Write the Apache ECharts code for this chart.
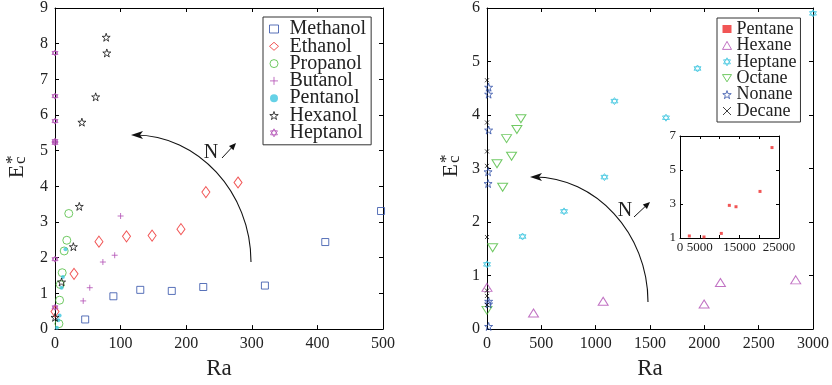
<!DOCTYPE html>
<html>
<head>
<meta charset="utf-8">
<script src="https://cdn.jsdelivr.net/npm/echarts@6/dist/echarts.min.js"></script>
<style>
  body { margin: 0; background: #fff; }
  #main { width: 832px; height: 385px; }
</style>
</head>
<body>
<div id="main"></div>
<script>
// left panel: alcohols, [Ra, Ec*]
var methanol = [[46,0.27],[89,0.92],[130,1.10],[178,1.07],[226,1.18],[320,1.22],[412,2.44],[497,3.31]];
var ethanol  = [[0,0.49],[29,1.55],[67,2.45],[109,2.60],[148,2.62],[192,2.80],[230,3.84],[279,4.11]];
var propanol = [[6,0.15],[7,0.81],[8,1.25],[11,1.58],[14,2.19],[18,2.49],[21,3.24]];
var butanol  = [[43,0.79],[53,1.16],[73,1.88],[91,2.07],[100,3.17]];
var pentanol = [[3,0.04],[5,0.25],[7,0.38],[10,1.16],[12,1.46],[16,2.24]];
var hexanol  = [[0,0.33],[10,1.32],[28,2.31],[37,3.44],[41,5.80],[62,6.51],[78,8.18],[79,7.74]];
var heptanol = [[0,0.61],[0,1.96],[0,5.22],[0,5.27],[0,5.83],[0,6.53],[0,7.74]];

// right panel: alkanes (pentane only in inset)
var pentane = [[2357,1.12],[6061,1.06],[10438,1.27],[12458,2.92],[14141,2.84],[20202,3.74],[23232,6.32]];
var hexane  = [[0,0.78],[428,0.30],[1069,0.52],[1998,0.47],[2148,0.87],[2841,0.92]];
var heptane = [[0,1.21],[327,1.73],[709,2.20],[1081,2.84],[1173,4.26],[1647,3.95],[1937,4.87],[3000,5.90]];
var octane  = [[0,0.35],[52,1.52],[92,3.09],[144,2.65],[180,3.56],[226,3.23],[275,3.73],[312,3.93]];
var nonane  = [[15,0.05],[15,0.47],[15,0.52],[10,2.72],[10,2.94],[15,3.72],[15,4.39],[15,4.52]];
var decane  = [[0,0.45],[0,0.62],[0,0.72],[0,1.72],[0,3.05],[0,3.32],[0,3.86],[0,4.65]];

var leftNames  = ['Methanol','Ethanol','Propanol','Butanol','Pentanol','Hexanol','Heptanol'];
var rightNames = ['Pentane','Hexane','Heptane','Octane','Nonane','Decane'];

var FONT = "'Liberation Serif', 'Times New Roman', serif";
var BLUE = '#2f4fa8', RED = '#ee2a2a', GREEN = '#4cbb3c', MAG = '#b24fb4', CYAN = '#3fc6e0', BLK = '#111';

var STAR5 = 'path://M50,0L61.8,35.1L98.1,35.1L68.8,56.7L79.4,91L50,70L20.6,91L31.2,56.7L1.9,35.1L38.2,35.1Z';
var HEXA = 'path://M50,0L93.3,75L6.7,75ZM50,100L6.7,25L93.3,25Z';
var PLUS = 'path://M5,0L5,10M0,5L10,5';
var CROSS = 'path://M0,0L10,10M10,0L0,10';
var DOWNTRI = 'path://M0,0L10,0L5,8Z';

var symbols = {
  Methanol: ['rect', 7, BLUE, true], Ethanol: ['diamond', [8, 11], RED, true],
  Propanol: ['circle', 8, GREEN, true], Butanol: [PLUS, 6, MAG, true],
  Pentanol: ['circle', 4, CYAN, false], Hexanol: [STAR5, 8, BLK, true],
  Heptanol: [HEXA, 6, MAG, true],
  Pentane: ['rect', 3, RED, false], Hexane: ['triangle', [10, 8], MAG, true],
  Heptane: [HEXA, 7, CYAN, true], Octane: [DOWNTRI, [10, 8], GREEN, true],
  Nonane: [STAR5, 8, BLUE, true], Decane: [CROSS, 4, BLK, true]
};

function styleOf(name) {
  var s = symbols[name];
  return s[3] ? { color: 'rgba(0,0,0,0)', borderColor: s[2], borderWidth: 1 } : { color: s[2], borderWidth: 0 };
}

function sc(name, data, ai) {
  return {
    name: name, type: 'scatter', data: data,
    xAxisIndex: ai, yAxisIndex: ai,
    symbol: symbols[name][0], symbolSize: symbols[name][1], itemStyle: styleOf(name),
    clip: false, silent: true
  };
}

function axisBase(min, max, interval, showLabel, pos, grid, fs) {
  return {
    type: 'value', gridIndex: grid, min: min, max: max, interval: interval, position: pos,
    axisLine: { show: true, onZero: false, lineStyle: { color: '#000', width: 1 } },
    axisTick: { show: true, inside: true, length: 4, lineStyle: { color: '#000' } },
    splitLine: { show: false },
    axisLabel: { show: showLabel, fontFamily: FONT, fontSize: fs || 16, color: '#222', margin: 7,
      formatter: function (v) { return String(v); } }
  };
}

var xAxes = [
  axisBase(0, 500, 100, true, 'bottom', 0),
  axisBase(0, 500, 100, false, 'top', 0),
  axisBase(0, 3000, 500, true, 'bottom', 1),
  axisBase(0, 3000, 500, false, 'top', 1),
  axisBase(0, 25000, 5000, true, 'bottom', 2, 13),
  axisBase(0, 25000, 5000, false, 'top', 2)
];
xAxes[0].name = 'Ra'; xAxes[2].name = 'Ra';
[0, 2].forEach(function (i) {
  xAxes[i].nameLocation = 'middle';
  xAxes[i].nameGap = 27;
  xAxes[i].nameTextStyle = { fontFamily: FONT, fontSize: 23, color: '#222' };
});
xAxes[4].axisLabel.margin = 3;
xAxes[4].axisLabel.formatter = function (v) { return (v === 10000 || v === 20000) ? '' : String(v); };
xAxes[4].axisTick.length = 3; xAxes[5].axisTick.length = 3;

var yAxes = [
  axisBase(0, 9, 1, true, 'left', 0),
  axisBase(0, 9, 1, false, 'right', 0),
  axisBase(0, 6, 1, true, 'left', 1),
  axisBase(0, 6, 1, false, 'right', 1),
  axisBase(1, 7, 2, true, 'left', 2, 13),
  axisBase(1, 7, 2, false, 'right', 2)
];
yAxes[4].axisLabel.margin = 4;
yAxes[4].axisTick.length = 3; yAxes[5].axisTick.length = 3;

var series = [
  sc('Methanol', methanol, 0),
  sc('Ethanol', ethanol, 0),
  sc('Propanol', propanol, 0),
  sc('Butanol', butanol, 0),
  sc('Pentanol', pentanol, 0),
  sc('Hexanol', hexanol, 0),
  sc('Heptanol', heptanol, 0),
  sc('Pentane', pentane, 4),
  sc('Hexane', hexane, 2),
  sc('Heptane', heptane, 2),
  sc('Octane', octane, 2),
  sc('Nonane', nonane, 2),
  sc('Decane', decane, 2)
];

// ylabel and arrows drawn as graphics
function eLabel(x, y) {
  return {
    type: 'group', x: x, y: y, rotation: Math.PI / 2, silent: true,
    children: [
      { type: 'text', x: 0, y: 0, style: { text: 'E', font: '21px "Liberation Serif"', fill: '#222', verticalAlign: 'bottom' } },
      { type: 'text', x: 14, y: 1, style: { text: 'c', font: '17px "Liberation Serif"', fill: '#222', verticalAlign: 'bottom' } },
      { type: 'text', x: 14, y: -7, style: { text: '*', font: '17px "Liberation Serif"', fill: '#222', verticalAlign: 'bottom' } }
    ]
  };
}
function curveArrow(sx, sy, ex, ey) {
  var rx = sx - ex, ry = sy - ey;
  return [
    { type: 'bezierCurve', silent: true,
      shape: { x1: sx, y1: sy, cpx1: sx, cpy1: sy - 0.552 * ry, cpx2: ex + 0.552 * rx, cpy2: ey, x2: ex + 4, y2: ey },
      style: { stroke: '#111', lineWidth: 1.1, fill: null } },
    { type: 'polygon', silent: true,
      shape: { points: [[ex, ey], [ex + 12, ey - 4], [ex + 9, ey], [ex + 12, ey + 4]] },
      style: { fill: '#111' } }
  ];
}
function nLabel(x, y, ax1, ay1, ax2, ay2) {
  var ang = Math.atan2(ay2 - ay1, ax2 - ax1);
  var hx = ax2 - 7 * Math.cos(ang), hy = ay2 - 7 * Math.sin(ang);
  var px = -Math.sin(ang) * 3, py = Math.cos(ang) * 3;
  return [
    { type: 'text', x: x, y: y, silent: true, style: { text: 'N', font: '20px "Liberation Serif"', fill: '#222', align: 'center', verticalAlign: 'middle' } },
    { type: 'line', silent: true, shape: { x1: ax1, y1: ay1, x2: hx, y2: hy }, style: { stroke: '#111', lineWidth: 1 } },
    { type: 'polygon', silent: true, shape: { points: [[ax2, ay2], [hx + px, hy + py], [hx - px, hy - py]] }, style: { fill: '#111' } }
  ];
}

var graphics = [eLabel(28, 178), eLabel(462, 177)]
  .concat(curveArrow(251, 262, 131, 135))
  .concat(curveArrow(648, 302, 530, 177))
  .concat(nLabel(211, 153, 222, 158, 236, 143))
  .concat(nLabel(625, 211, 634, 217, 650, 202));

function legendBox(names, left, top, fs, gap, pad, textPad) {
  return {
    data: names.map(function (n) {
      return { name: n, icon: symbols[n][0], itemStyle: styleOf(n) };
    }),
    orient: 'vertical', left: left, top: top,
    backgroundColor: '#fff', borderColor: '#333', borderWidth: 1,
    padding: pad, itemGap: gap, itemWidth: 9, itemHeight: 8,
    selectedMode: false,
    textStyle: { fontFamily: FONT, fontSize: fs, color: '#222', padding: [0, 0, 0, textPad] }
  };
}

var chart = echarts.init(document.getElementById('main'));
chart.setOption({
  animation: false,
  textStyle: { fontFamily: FONT },
  grid: [
    { left: 55, top: 5, width: 328, height: 327 },
    { left: 487, top: 5, width: 327, height: 327 },
    { left: 680, top: 136, width: 99, height: 102, show: true, backgroundColor: '#fff', borderWidth: 0 }
  ],
  xAxis: xAxes,
  yAxis: yAxes,
  legend: [
    legendBox(leftNames, 263, 17, 20, -2.7, [2, 5, 2, 6], 6),
    legendBox(rightNames, 717, 18, 18, -1.6, [2, 4, 2, 5], 0)
  ],
  graphic: graphics,
  series: series
});
</script>
</body>
</html>
